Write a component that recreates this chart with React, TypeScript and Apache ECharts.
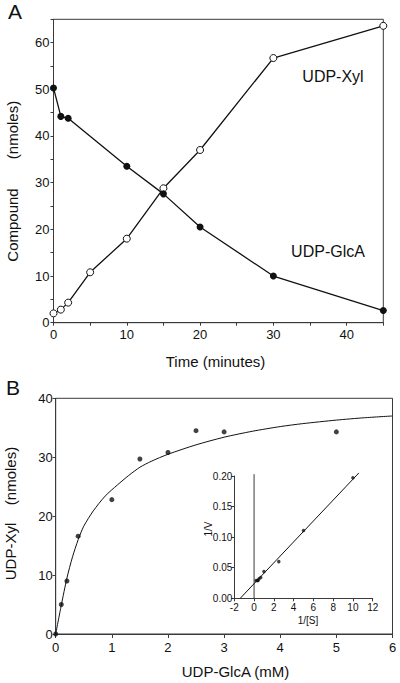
import React, { useEffect, useRef } from "react";
import * as echarts from "echarts";

// Panel A data
const timeGlcA = [0, 1, 2, 10, 15, 20, 30, 45];
const glcA = [50.3, 44.2, 43.8, 33.5, 27.6, 20.5, 10.0, 2.6];
const timeXyl = [0, 1, 2, 5, 10, 15, 20, 30, 45];
const xyl = [2.0, 2.8, 4.3, 10.8, 18.0, 28.8, 37.0, 56.7, 63.6];

// Panel B data
const sConc = [0, 0.1, 0.2, 0.4, 1.0, 1.5, 2.0, 2.5, 3.0, 5.0];
const udpXyl = [0, 5.0, 9.0, 16.6, 22.8, 29.7, 30.8, 34.5, 34.3, 34.3];
// fitted curve
const curveX = [0, 0.1, 0.2, 0.3, 0.4, 0.5, 0.67, 0.88, 1.1, 1.3, 1.5, 1.7, 2.0, 2.5, 3.0, 3.5, 4.0, 4.4, 5.0, 5.5, 6.0];
const curveY = [0, 4.9, 9.5, 13.1, 16.0, 18.3, 20.9, 23.4, 25.3, 26.9, 28.3, 29.3, 30.5, 32.1, 33.4, 34.4, 35.2, 35.7, 36.3, 36.7, 37.0];

// Inset (double reciprocal)
const invS = [10, 5, 2.5, 1, 0.67, 0.5, 0.4, 0.33, 0.2];
const invV = [0.197, 0.111, 0.06, 0.044, 0.034, 0.032, 0.029, 0.029, 0.029];
const fitX = [-1.4, 10.6];
const fitY = [0, 0.205];
const zeroLineX = [0, 0];
const zeroLineY = [0, 0.203];

const FONT = "'Liberation Sans', Arial, sans-serif";
const AX = "#3a3a3a";

const zip = (a: number[], b: number[]) => a.map((v, i) => [v, b[i]]);

export default function App() {
  const ref = useRef<HTMLDivElement>(null);
  useEffect(() => {
    if (!ref.current) return;
    const chart = echarts.init(ref.current, null, { renderer: "svg" });
    const axisCommon = (fs: number) => ({
      axisLine: { show: true, lineStyle: { color: AX, width: 1 } },
      axisTick: { show: true, inside: false, length: 3, lineStyle: { color: AX } },
      splitLine: { show: false },
      axisLabel: { color: "#111", fontSize: fs, fontFamily: FONT },
    });
    chart.setOption({
      animation: false,
      backgroundColor: "#fff",
      textStyle: { fontFamily: FONT },
      grid: [
        { left: 53.5, top: 19.3, right: 16.7, bottom: 360.3, show: true, borderColor: AX, borderWidth: 1, backgroundColor: "transparent" },
        { left: 55.7, top: 398.3, right: 7.5, bottom: 49, show: true, borderColor: AX, borderWidth: 1, backgroundColor: "transparent" },
        { left: 234.3, top: 476, right: 27.3, bottom: 84.7, show: false },
      ],
      xAxis: [
        {
          gridIndex: 0, type: "value", min: 0, max: 45, interval: 5,
          ...axisCommon(13),
          axisLabel: { color: "#111", fontSize: 13, fontFamily: FONT, margin: 5, formatter: (v: number) => (v % 10 === 0 ? String(v) : "") },
        },
        {
          gridIndex: 1, type: "value", min: 0, max: 6, interval: 1,
          ...axisCommon(13),
          axisTick: { show: true, inside: false, length: 4, lineStyle: { color: AX } },
          axisLabel: { color: "#111", fontSize: 13, fontFamily: FONT, margin: 7 },
        },
        {
          gridIndex: 2, type: "value", min: -2, max: 12, interval: 2,
          ...axisCommon(10),
          axisLabel: { color: "#111", fontSize: 10, fontFamily: FONT, margin: 4 },
        },
      ],
      yAxis: [
        {
          gridIndex: 0, type: "value", min: 0, max: 65, interval: 5,
          ...axisCommon(13),
          axisLabel: { color: "#111", fontSize: 13, fontFamily: FONT, margin: 4, formatter: (v: number) => (v % 10 === 0 ? String(v) : "") },
        },
        {
          gridIndex: 1, type: "value", min: 0, max: 40, interval: 10,
          ...axisCommon(13),
          axisLabel: { color: "#111", fontSize: 13, fontFamily: FONT, margin: 3 },
        },
        {
          gridIndex: 2, type: "value", min: 0, max: 0.2, interval: 0.05,
          ...axisCommon(10),
          axisLine: { show: true, onZero: false, lineStyle: { color: AX, width: 1 } },
          axisLabel: { color: "#111", fontSize: 10, fontFamily: FONT, margin: 2, formatter: (v: number) => v.toFixed(2) },
        },
      ],
      series: [
        {
          type: "line", xAxisIndex: 0, yAxisIndex: 0, data: zip(timeXyl, xyl),
          symbol: "circle", symbolSize: 7,
          lineStyle: { color: "#111", width: 1.3 },
          itemStyle: { color: "#fff", borderColor: "#111", borderWidth: 1 },
          z: 3,
        },
        {
          type: "line", xAxisIndex: 0, yAxisIndex: 0, data: zip(timeGlcA, glcA),
          symbol: "circle", symbolSize: 7,
          lineStyle: { color: "#111", width: 1.3 },
          itemStyle: { color: "#111", borderColor: "#111", borderWidth: 0 },
          z: 4,
        },
        {
          type: "line", xAxisIndex: 1, yAxisIndex: 1, data: zip(curveX, curveY),
          symbol: "none", smooth: 0.25,
          lineStyle: { color: "#111", width: 1 },
        },
        {
          type: "scatter", xAxisIndex: 1, yAxisIndex: 1, data: zip(sConc, udpXyl),
          symbol: "circle", symbolSize: 5,
          itemStyle: { color: "#111" },
        },
        {
          type: "line", xAxisIndex: 2, yAxisIndex: 2, data: zip(zeroLineX, zeroLineY),
          symbol: "none", clip: false, lineStyle: { color: AX, width: 1 },
        },
        {
          type: "line", xAxisIndex: 2, yAxisIndex: 2, data: zip(fitX, fitY),
          symbol: "none", clip: false, lineStyle: { color: "#111", width: 1 },
        },
        {
          type: "scatter", xAxisIndex: 2, yAxisIndex: 2, data: zip(invS, invV),
          symbol: "circle", symbolSize: 3.5,
          itemStyle: { color: "#111" },
        },
      ],
      graphic: [
        { type: "text", x: 15, y: 11, style: { text: "A", fontSize: 21, fontFamily: FONT, fill: "#111", align: "center", verticalAlign: "middle" } },
        { type: "text", x: 13, y: 387.5, style: { text: "B", fontSize: 21, fontFamily: FONT, fill: "#111", align: "center", verticalAlign: "middle" } },
        { type: "text", x: 12, y: 225, rotation: Math.PI / 2, style: { text: "Compound", fontSize: 15, fontFamily: FONT, fill: "#111", align: "center", verticalAlign: "middle" } },
        { type: "text", x: 12, y: 130, rotation: Math.PI / 2, style: { text: "(nmoles)", fontSize: 15, fontFamily: FONT, fill: "#111", align: "center", verticalAlign: "middle" } },
        { type: "text", x: 215.5, y: 361.7, style: { text: "Time (minutes)", fontSize: 15, fontFamily: FONT, fill: "#111", align: "center", verticalAlign: "middle" } },
        { type: "text", x: 333, y: 76, style: { text: "UDP-Xyl", fontSize: 16, fontFamily: FONT, fill: "#111", align: "center", verticalAlign: "middle" } },
        { type: "text", x: 328, y: 251, style: { text: "UDP-GlcA", fontSize: 16, fontFamily: FONT, fill: "#111", align: "center", verticalAlign: "middle" } },
        { type: "text", x: 10, y: 551.5, rotation: Math.PI / 2, style: { text: "UDP-Xyl", fontSize: 15, fontFamily: FONT, fill: "#111", align: "center", verticalAlign: "middle" } },
        { type: "text", x: 10, y: 476, rotation: Math.PI / 2, style: { text: "(nmoles)", fontSize: 15, fontFamily: FONT, fill: "#111", align: "center", verticalAlign: "middle" } },
        { type: "text", x: 235.5, y: 671.7, style: { text: "UDP-GlcA (mM)", fontSize: 15, fontFamily: FONT, fill: "#111", align: "center", verticalAlign: "middle" } },
        { type: "text", x: 208, y: 529, rotation: Math.PI / 2, style: { text: "1/V", fontSize: 10, fontFamily: FONT, fill: "#111", align: "center", verticalAlign: "middle" } },
        { type: "text", x: 308, y: 620.7, style: { text: "1/[S]", fontSize: 10, fontFamily: FONT, fill: "#111", align: "center", verticalAlign: "middle" } },
      ],
    });
    return () => chart.dispose();
  }, []);
  return <div ref={ref} style={{ position: "fixed", left: 0, top: 0, width: 400, height: 683 }} />;
}
